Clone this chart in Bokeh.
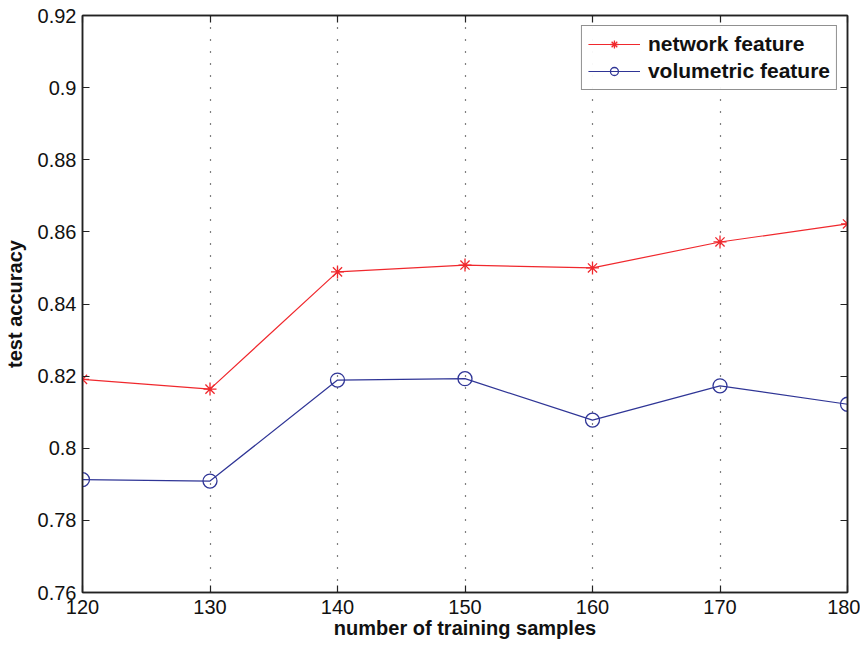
from bokeh.plotting import figure
from bokeh.models import LinearAxis, FixedTicker, Legend, LegendItem, Range1d
from bokeh.embed import file_html
from bokeh.resources import INLINE

samples = [120, 130, 140, 150, 160, 170, 180]
network = [0.8191, 0.8164, 0.8489, 0.8508, 0.8500, 0.8572, 0.8622]
volumetric = [0.7913, 0.7909, 0.8189, 0.8193, 0.8078, 0.8173, 0.8122]
x_ticks = [120, 130, 140, 150, 160, 170, 180]
y_ticks = [0.76, 0.78, 0.8, 0.82, 0.84, 0.86, 0.88, 0.9, 0.92]
y_tick_labels = {0.76: "0.76", 0.78: "0.78", 0.8: "0.8", 0.82: "0.82", 0.84: "0.84",
                 0.86: "0.86", 0.88: "0.88", 0.9: "0.9", 0.92: "0.92"}

FONT = "Liberation Sans"
RED = "#f0282d"
BLUE = "#2f3596"

p = figure(width=860, height=645, output_backend="svg", toolbar_location=None,
           x_range=Range1d(120, 180), y_range=Range1d(0.76, 0.92),
           min_border_left=82, min_border_top=15, min_border_right=13, min_border_bottom=53)
p.outline_line_color = "#222222"
p.outline_line_width = 1.5

for ax in [p.xaxis[0], p.yaxis[0]]:
    ax.major_tick_in = 7
    ax.major_tick_out = 0
    ax.minor_tick_in = 0
    ax.minor_tick_out = 0
    ax.axis_line_color = "#222222"
    ax.axis_line_width = 1.5
    ax.major_tick_line_color = "#222222"
    ax.major_tick_line_width = 1.2
    ax.major_label_text_font = FONT
    ax.major_label_text_font_size = "20px"
    ax.major_label_text_color = "#111111"
    ax.axis_label_text_font = FONT
    ax.axis_label_text_font_size = "20px"
    ax.axis_label_text_font_style = "bold"
    ax.axis_label_text_color = "#111111"

p.xaxis[0].ticker = FixedTicker(ticks=x_ticks)
p.yaxis[0].ticker = FixedTicker(ticks=y_ticks)
p.yaxis[0].major_label_overrides = y_tick_labels
p.xaxis[0].major_label_standoff = 7
p.yaxis[0].major_label_standoff = 6
p.xaxis[0].axis_label = "number of training samples"
p.yaxis[0].axis_label = "test accuracy"
p.xaxis[0].axis_label_standoff = 0
p.yaxis[0].axis_label_standoff = 9

for loc, ticks in [("above", x_ticks), ("right", y_ticks)]:
    ax = LinearAxis(ticker=FixedTicker(ticks=ticks), major_label_text_font_size="0px",
                    major_tick_in=7, major_tick_out=0, minor_tick_in=0, minor_tick_out=0,
                    axis_line_color="#222222", axis_line_width=1.5,
                    major_tick_line_color="#222222", major_tick_line_width=1.2)
    ax.major_label_text_alpha = 0
    p.add_layout(ax, loc)

p.xgrid.ticker = FixedTicker(ticks=x_ticks)
p.xgrid.grid_line_color = "#000000"
p.xgrid.grid_line_dash = "1 11"
p.xgrid.grid_line_width = 1.2
p.ygrid.grid_line_color = None

l1 = p.line(samples, network, line_color=RED, line_width=1.2)
m1 = p.scatter(samples, network, marker="asterisk", size=13, line_color=RED, line_width=1.3)
l2 = p.line(samples, volumetric, line_color=BLUE, line_width=1.2)
m2 = p.scatter(samples, volumetric, marker="circle", size=14, line_color=BLUE,
               fill_color=None, line_width=1.3)

legend = Legend(items=[LegendItem(label="network feature", renderers=[l1, m1]),
                       LegendItem(label="volumetric feature", renderers=[l2, m2])],
                location="top_right")
legend.label_text_font = FONT
legend.label_text_font_size = "21px"
legend.label_text_font_style = "bold"
legend.label_text_color = "#111111"
legend.border_line_color = "#222222"
legend.border_line_width = 1.5
legend.glyph_width = 52
legend.glyph_height = 20
legend.spacing = 3
legend.padding = 6
legend.margin = 10
legend.label_standoff = 8
legend.label_height = 20
p.add_layout(legend)

open("out.html", "w").write(file_html(p, INLINE))
